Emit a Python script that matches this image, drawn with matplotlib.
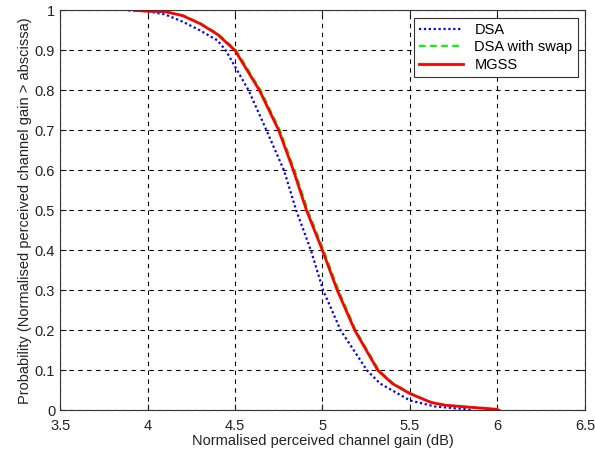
import matplotlib.pyplot as plt
from matplotlib.ticker import FuncFormatter

plt.rcParams['font.family'] = ['Liberation Sans', 'DejaVu Sans']

# values (probability levels and gain in dB)
dsa_p = [1.0, 0.998, 0.99, 0.972, 0.95, 0.925, 0.9, 0.8, 0.7, 0.6, 0.5, 0.4,
         0.3, 0.2, 0.1, 0.067, 0.025, 0.01, 0.003, 0.0]
dsa_x = [3.89, 4.0, 4.1, 4.2, 4.3, 4.4, 4.447, 4.578, 4.68, 4.78, 4.85, 4.934,
         5.004, 5.104, 5.255, 5.33, 5.5, 5.64, 5.82, 5.86]

mgss_p = [1.0, 0.998, 0.997, 0.987, 0.967, 0.94, 0.9, 0.8, 0.7, 0.6, 0.5, 0.4,
          0.3, 0.2, 0.1, 0.067, 0.042, 0.02, 0.013, 0.008, 0.003, 0.0]
mgss_x = [3.93, 4.0, 4.1, 4.2, 4.3, 4.4, 4.5, 4.64, 4.75, 4.834, 4.909, 5.0,
          5.085, 5.185, 5.317, 5.40, 5.5, 5.62, 5.70, 5.84, 5.99, 6.01]

swap_p = mgss_p
swap_x = [3.93, 4.005, 4.105, 4.205, 4.307, 4.407, 4.507, 4.647, 4.757, 4.841,
          4.916, 5.007, 5.092, 5.191, 5.323, 5.406, 5.505, 5.625, 5.705, 5.845,
          5.995, 6.01]

xticks = [3.5, 4, 4.5, 5, 5.5, 6, 6.5]
yticks = [0, 0.1, 0.2, 0.3, 0.4, 0.5, 0.6, 0.7, 0.8, 0.9, 1]

fig = plt.figure(figsize=(5.95, 4.53), dpi=100)
ax = fig.add_axes([0.101, 0.094, 0.882, 0.883])

ax.plot(dsa_x, dsa_p, linestyle=(0, (1, 1.2)), color='#0000ff', lw=1.6, label='DSA')
ax.plot(swap_x, swap_p, linestyle=(0, (3, 2)), color='#00ff00', lw=1.6, label='DSA with swap')
ax.plot(mgss_x, mgss_p, '-', color='#ff0000', lw=2.0, label='MGSS')

ax.set_xlim(3.5, 6.5)
ax.set_ylim(0, 1)
ax.set_xticks(xticks)
ax.set_yticks(yticks)
fmt = FuncFormatter(lambda v, pos: ('%g' % v))
ax.xaxis.set_major_formatter(fmt)
ax.yaxis.set_major_formatter(fmt)
ax.tick_params(direction='in', length=4, labelsize=10.5, colors='#222222', top=True, right=True)
ax.tick_params(axis='x', pad=6)
ax.grid(True, color='black', linestyle=(0, (4, 4)), lw=0.8)
for s in ax.spines.values():
    s.set_color('#333333')
    s.set_linewidth(0.8)

ax.set_xlabel('Normalised perceived channel gain (dB)', fontsize=10.5, color='#222222', labelpad=1)
ax.set_ylabel('Probability (Normalised perceived channel gain > abscissa)', fontsize=10.5,
              color='#222222', labelpad=2)

leg = ax.legend(loc='upper right', fontsize=10.5, fancybox=False, framealpha=1,
                edgecolor='#333333', borderaxespad=0.5, handlelength=3.0,
                borderpad=0.35, labelspacing=0.25)
leg.get_frame().set_linewidth(0.8)

fig.savefig('out.png', dpi=100, facecolor='white')
